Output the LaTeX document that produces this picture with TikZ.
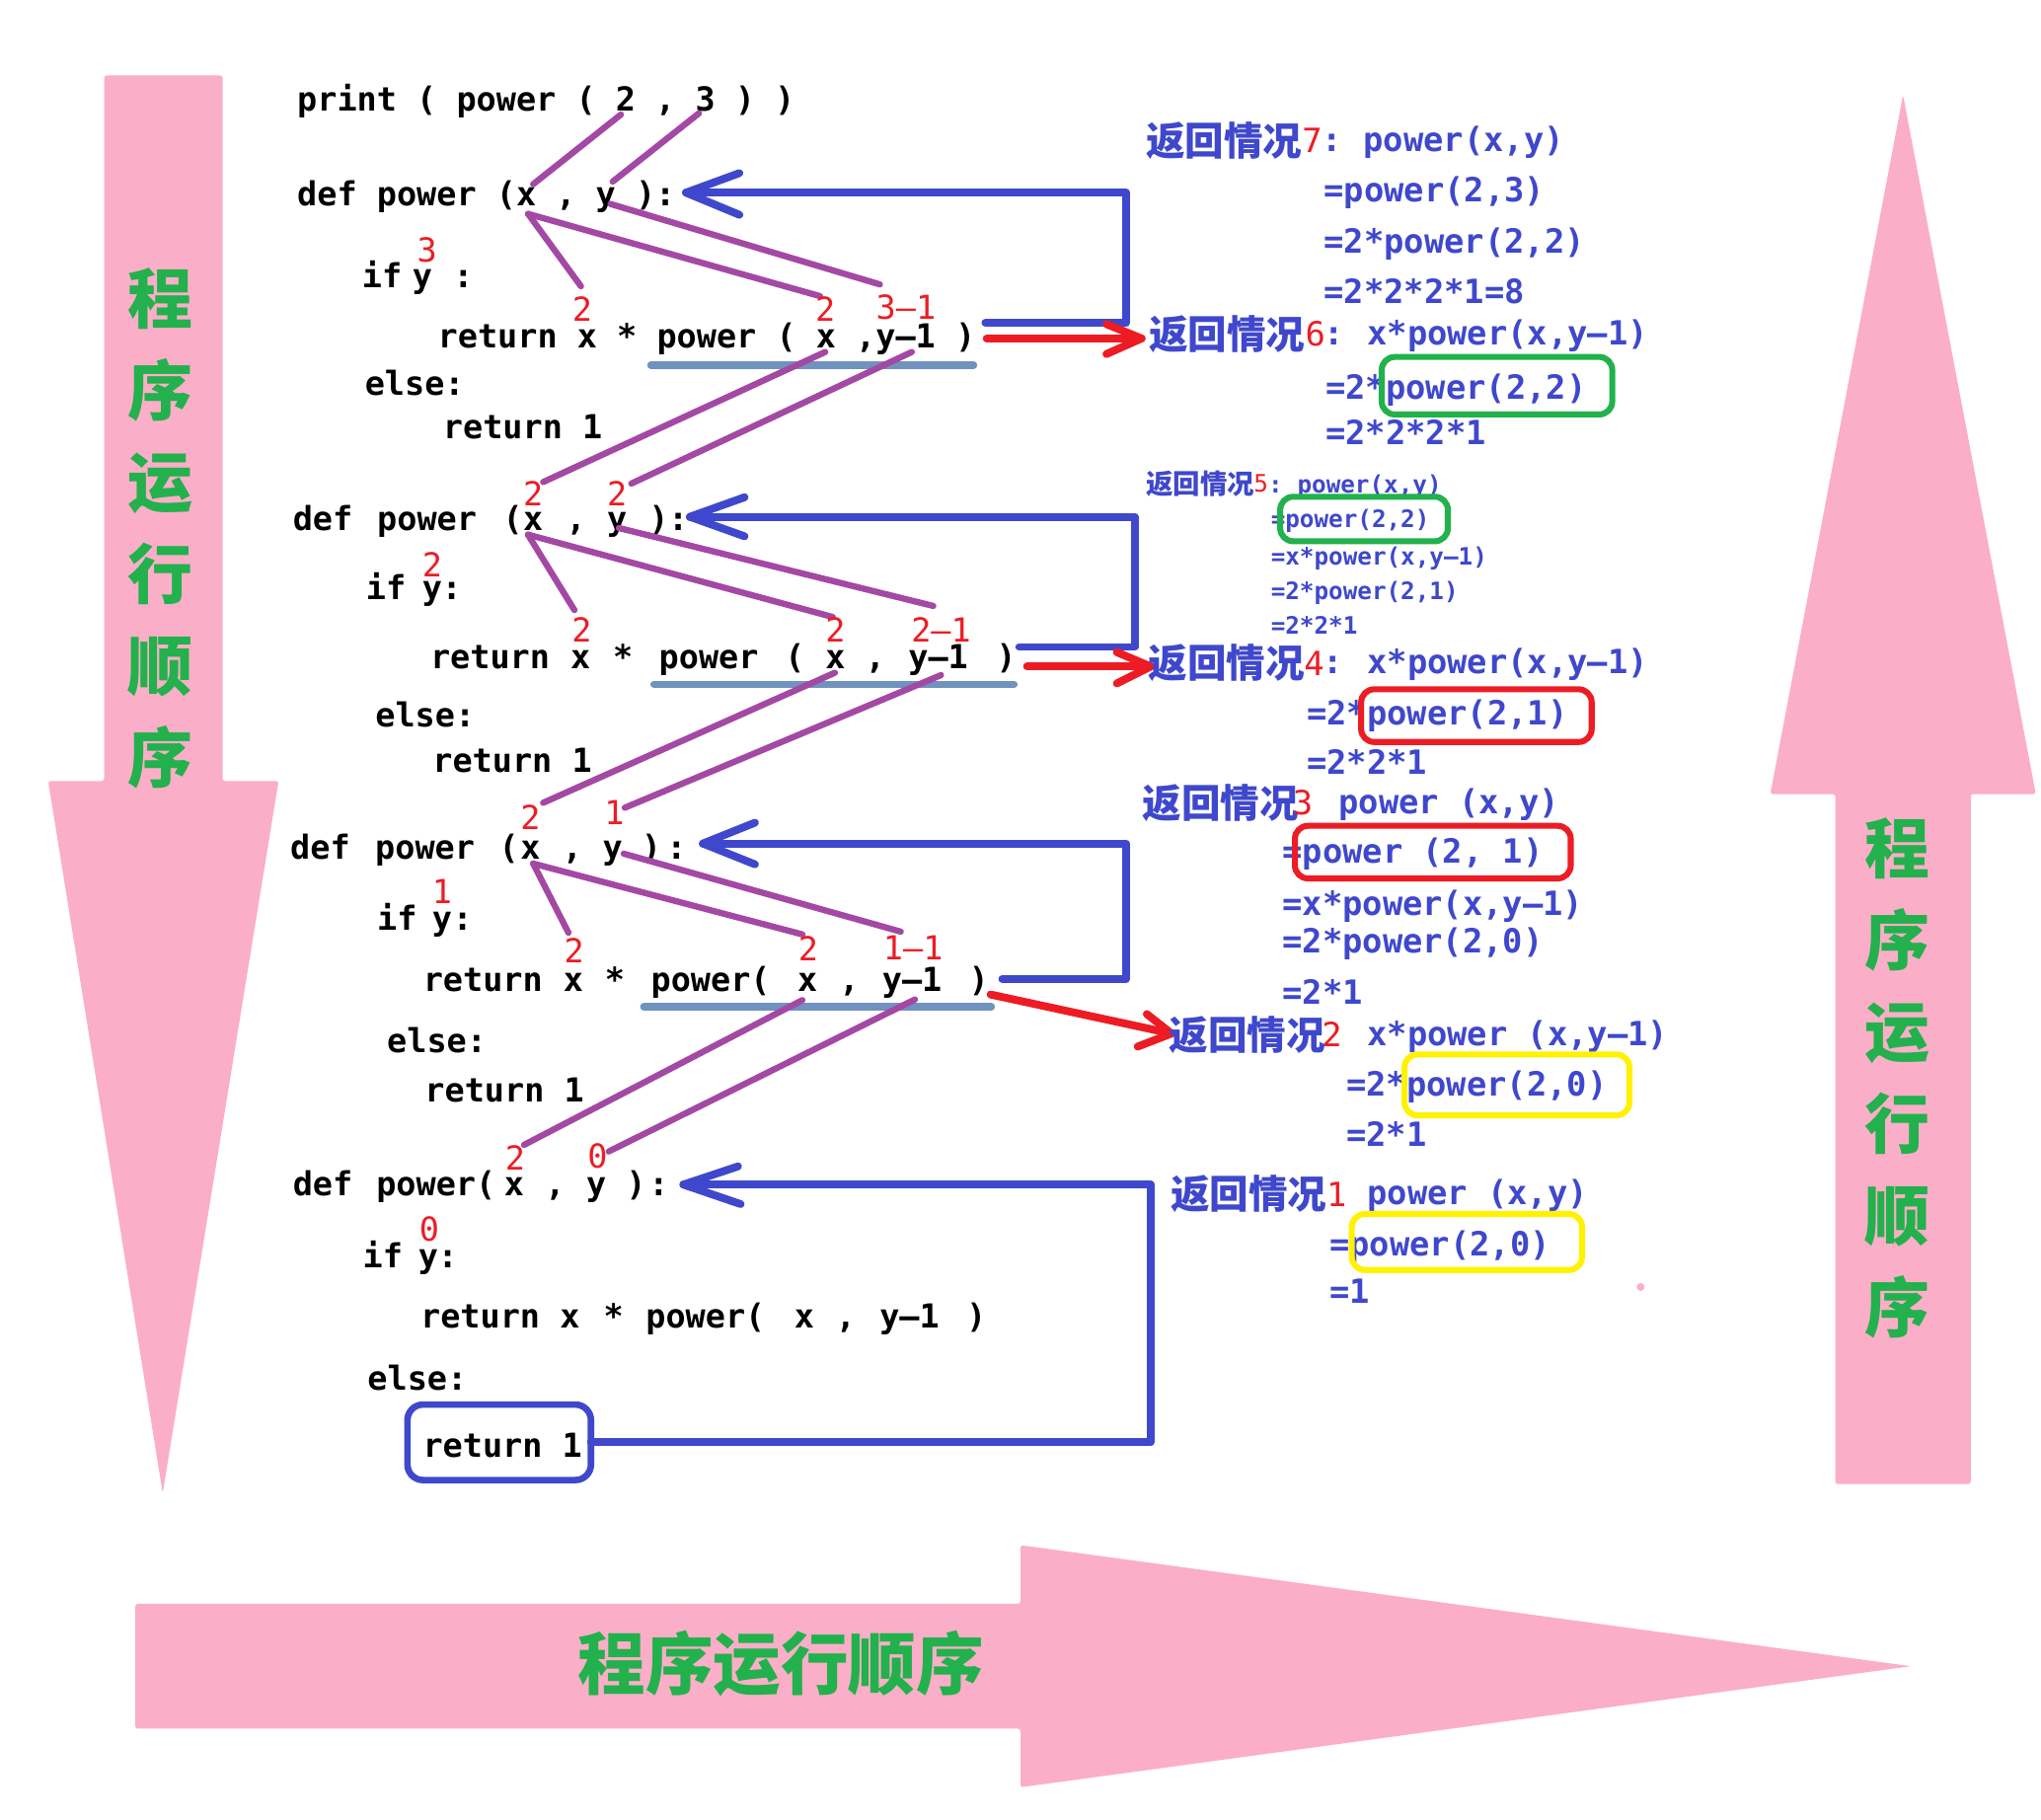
\documentclass[tikz,border=0pt]{standalone}
\usepackage{fontspec}
\usetikzlibrary{calc}
\newfontfamily\codefont{DejaVu Sans Mono}
\newfontfamily\cjkfont{Noto Sans CJK SC}
\definecolor{pinkc}{RGB}{251,174,200}
\definecolor{greenc}{RGB}{34,177,76}
\definecolor{bluec}{RGB}{63,72,204}
\definecolor{redc}{RGB}{237,28,36}
\definecolor{purplec}{RGB}{163,73,164}
\definecolor{steelc}{RGB}{112,146,190}
\definecolor{yellowc}{RGB}{255,242,0}
\tikzset{
 code/.style={font=\codefont\bfseries\fontsize{12.7}{15}\selectfont, inner sep=0pt, anchor=mid, yshift=-2pt},
 codew/.style={code, anchor=mid west},
 rd/.style={font=\codefont\fontsize{12.7}{15}\selectfont, text=redc, inner sep=0pt, anchor=center},
 bt/.style={font=\codefont\bfseries\fontsize{12.8}{15}\selectfont, text=bluec, inner sep=0pt, anchor=mid west, yshift=-2pt},
 btc/.style={bt, anchor=mid},
 bts/.style={font=\codefont\bfseries\fontsize{9.2}{11}\selectfont, text=bluec, inner sep=0pt, anchor=mid west, yshift=-1.5pt},
 btsc/.style={bts, anchor=mid},
 cjb/.style={font=\cjkfont\bfseries\fontsize{15}{18}\selectfont, text=bluec, inner sep=0pt, anchor=west},
 cjs/.style={font=\cjkfont\bfseries\fontsize{10.4}{12}\selectfont, text=bluec, inner sep=0pt, anchor=west},
 rdb/.style={font=\codefont\fontsize{12.8}{15}\selectfont, text=redc, inner sep=0pt, anchor=center},
 rds/.style={font=\codefont\fontsize{9.2}{11}\selectfont, text=redc, inner sep=0pt, anchor=center},
 gtext/.style={font=\cjkfont\bfseries\fontsize{25}{35.25}\selectfont, text=greenc, inner sep=0pt, align=center},
 pinkarrow/.style={fill=pinkc, rounded corners=1pt},
 purp/.style={draw=purplec, line width=2.4pt, line cap=round},
 bline/.style={draw=bluec, line width=3pt, line cap=round, line join=round},
 rline/.style={draw=redc, line width=3pt, line cap=round, line join=round},
 uline/.style={draw=steelc, line width=2.8pt, line cap=round},
 hbox/.style={line width=2.3pt, rounded corners=5pt},
}
\begin{document}
\begin{tikzpicture}[x=0.5pt,y=-0.5pt]
\useasboundingbox (0,0) rectangle (1568,1398);
\fill[white] (0,0) rectangle (1568,1398);
% ---------- pink arrows ----------
\fill[pinkarrow] (80,58) -- (171,58) -- (171,600) -- (214,600) -- (125,1147) -- (37,600) -- (80,600) -- cycle;
\fill[pinkarrow] (1462,73) -- (1564,610) -- (1514,610) -- (1514,1140) -- (1410,1140) -- (1410,610) -- (1360,610) -- cycle;
\fill[pinkarrow] (104,1232) -- (784,1232) -- (784,1187) -- (1468,1280) -- (784,1373) -- (784,1328) -- (104,1328) -- cycle;
\node[gtext] (gl) at (123,406) {程\\序\\运\\行\\顺\\序};
\node[gtext] (gr) at (1458,828) {程\\序\\运\\行\\顺\\序};
\node[gtext, font=\cjkfont\bfseries\fontsize{26}{30}\selectfont] (gb) at (600,1278) {程序运行顺序};
% ---------- block 1 ----------
\node[codew] (l1) at (228,77) {print ( power ( 2 , 3 ) )};
\node[codew] (d1) at (228,150) {def power (x , y ):};
\node[code] (i1a) at (293.5,213) {if};
\node[code] (i1b) at (324.5,213) {y};
\node[code] (i1c) at (356,213) {:};
\node[codew] (r1) at (336,259) {return x * power ( x ,y—1 )};
\node[codew] (e1) at (280,295.7) {else:};
\node[codew] (e1r) at (340,328.5) {return 1};
% ---------- block 2 ----------
\node[code] (d2a) at (248,399) {def};
\node[code] (d2b) at (328,399) {power};
\node[code] (d2c) at (394,399) {(};
\node[code] (d2x) at (409.6,399) {x};
\node[code] (d2d) at (442.5,399) {,};
\node[code] (d2y) at (474,399) {y};
\node[code] (d2e) at (506,399) {)};
\node[code] (d2f) at (521,399) {:};
\node[code] (i2a) at (296.5,452) {if};
\node[code] (i2b) at (332,452) {y};
\node[code] (i2c) at (347,452) {:};
\node[code] (r2a) at (376.5,505) {return};
\node[code] (r2b) at (446,505) {x};
\node[code] (r2c) at (478.6,505) {*};
\node[code] (r2d) at (544.5,505) {power};
\node[code] (r2e) at (610.7,505) {(};
\node[code] (r2f) at (641.7,505) {x};
\node[code] (r2g) at (672.5,505) {,};
\node[code] (r2h) at (720.8,505) {y—1};
\node[code] (r2i) at (773,505) {)};
\node[codew] (e2) at (288,550) {else:};
\node[codew] (e2r) at (332,585) {return 1};
% ---------- block 3 ----------
\node[code] (d3a) at (246,652) {def};
\node[code] (d3b) at (326.5,652) {power};
\node[code] (d3c) at (391,652) {(};
\node[code] (d3x) at (407.6,652) {x};
\node[code] (d3d) at (439.7,652) {,};
\node[code] (d3y) at (470.7,652) {y};
\node[code] (d3e) at (500.4,652) {)};
\node[code] (d3f) at (519.8,652) {:};
\node[code] (i3a) at (305,706.4) {if};
\node[code] (i3b) at (339.7,706.4) {y};
\node[code] (i3c) at (355.4,706.4) {:};
\node[code] (r3a) at (371,753) {return};
\node[code] (r3b) at (440.5,753) {x};
\node[code] (r3c) at (472.3,753) {*};
\node[code] (r3d) at (546,753) {power(};
\node[code] (r3f) at (620.4,753) {x};
\node[code] (r3g) at (652.5,753) {,};
\node[code] (r3h) at (700.7,753) {y—1};
\node[code] (r3i) at (752,753) {)};
\node[codew] (e3) at (297,800) {else:};
\node[codew] (e3r) at (326,838) {return 1};
% ---------- block 4 ----------
\node[code] (d4a) at (248,910) {def};
\node[code] (d4b) at (335,910) {power(};
\node[code] (d4x) at (395,910) {x};
\node[code] (d4d) at (426.4,910) {,};
\node[code] (d4y) at (458.2,910) {y};
\node[code] (d4e) at (488.7,910) {)};
\node[code] (d4f) at (506,910) {:};
\node[code] (i4a) at (294,965.4) {if};
\node[code] (i4b) at (329,965.4) {y};
\node[code] (i4c) at (344,965.4) {:};
\node[code] (r4a) at (369,1012) {return};
\node[code] (r4b) at (437.8,1012) {x};
\node[code] (r4c) at (471.3,1012) {*};
\node[code] (r4d) at (542,1012) {power(};
\node[code] (r4f) at (618,1012) {x};
\node[code] (r4g) at (649.8,1012) {,};
\node[code] (r4h) at (698.7,1012) {y—1};
\node[code] (r4i) at (750,1012) {)};
\node[codew] (e4) at (282,1060) {else:};
\node[codew] (e4r) at (324.5,1111) {return 1};
\draw[bluec, line width=2.5pt, rounded corners=6pt] (313,1079) rectangle (454,1137);
% ---------- underlines ----------
\coordinate (u1a) at (500,280.5); \coordinate (u1b) at (748,280.5);
\coordinate (u2a) at (502.4,525.7); \coordinate (u2b) at (779,525.7);
\coordinate (u3a) at (494.6,773.4); \coordinate (u3b) at (761.6,773.4);
\draw[uline] (u1a) -- (u1b);
\draw[uline] (u2a) -- (u2b);
\draw[uline] (u3a) -- (u3b);
% ---------- purple parameter lines ----------
\coordinate (pa1) at (477,88);   \coordinate (pb1) at (409.6,141.5);
\coordinate (pa2) at (537,87);   \coordinate (pb2) at (470.7,139.5);
\coordinate (pa3) at (405.7,164.3); \coordinate (pb3) at (446.3,219.9);
\coordinate (pb4) at (630,227.5);
\coordinate (pa5) at (469,156.7); \coordinate (pb5) at (676,218.5);
\coordinate (pa6) at (634,270.4); \coordinate (pb6) at (417.3,370.3);
\coordinate (pa7) at (700.5,270.4); \coordinate (pb7) at (485,371.5);
\coordinate (pa8) at (405.6,410.7); \coordinate (pb8) at (441.3,468.7);
\coordinate (pb9) at (639.8,474);
\coordinate (pa10) at (475.4,405.6); \coordinate (pb10) at (717,465.5);
\coordinate (pa11) at (641.4,516.8); \coordinate (pb11) at (417.3,616.7);
\coordinate (pa12) at (723,518.6); \coordinate (pb12) at (480,620.5);
\coordinate (pa13) at (409.6,663.4); \coordinate (pb13) at (436.7,716.5);
\coordinate (pb14) at (616.4,717.8);
\coordinate (pa15) at (479.2,655.8); \coordinate (pb15) at (692,715.7);
\coordinate (pa16) at (616.4,768.3); \coordinate (pb16) at (402.6,879.5);
\coordinate (pa17) at (702.9,767.8); \coordinate (pb17) at (467.6,884.6);
\draw[purp] (pa1) -- (pb1);
\draw[purp] (pa2) -- (pb2);
\draw[purp] (pa3) -- (pb3);
\draw[purp] (pa3) -- (pb4);
\draw[purp] (pa5) -- (pb5);
\draw[purp] (pa6) -- (pb6);
\draw[purp] (pa7) -- (pb7);
\draw[purp] (pa8) -- (pb8);
\draw[purp] (pa8) -- (pb9);
\draw[purp] (pa10) -- (pb10);
\draw[purp] (pa11) -- (pb11);
\draw[purp] (pa12) -- (pb12);
\draw[purp] (pa13) -- (pb13);
\draw[purp] (pa13) -- (pb14);
\draw[purp] (pa15) -- (pb15);
\draw[purp] (pa16) -- (pb16);
\draw[purp] (pa17) -- (pb17);
% ---------- red value labels ----------
\node[rd] (v1a) at (328,192) {3};
\node[rd] (v1b) at (447.4,237.6) {2};
\node[rd] (v1c) at (634,237) {2};
\node[rd] (v1d) at (696,236.3) {3—1};
\node[rd] (v2a) at (409.6,379) {2};
\node[rd] (v2b) at (474,379) {2};
\node[rd] (v2c) at (332,434) {2};
\node[rd] (v2d) at (447,484) {2};
\node[rd] (v2e) at (641.7,484) {2};
\node[rd] (v2f) at (723,484) {2—1};
\node[rd] (v3a) at (407.6,628) {2};
\node[rd] (v3b) at (472,624) {1};
\node[rd] (v3c) at (339.7,685) {1};
\node[rd] (v3d) at (441,730.4) {2};
\node[rd] (v3e) at (621,729) {2};
\node[rd] (v3f) at (701.5,728) {1—1};
\node[rd] (v4a) at (395.8,889.5) {2};
\node[rd] (v4b) at (459,888.4) {0};
\node[rd] (v4c) at (329.8,944) {0};
% ---------- blue return connectors ----------
\coordinate (c1s) at (757,248); \coordinate (c1m) at (865,248); \coordinate (c1n) at (865,148); \coordinate (c1t) at (527,148);
\coordinate (c2s) at (783,497); \coordinate (c2m) at (872,497); \coordinate (c2n) at (872,397); \coordinate (c2t) at (530,397);
\coordinate (c3s) at (770,752); \coordinate (c3m) at (865,752); \coordinate (c3n) at (865,648); \coordinate (c3t) at (540,648);
\coordinate (c4s) at (454,1108); \coordinate (c4m) at (884,1108); \coordinate (c4n) at (884,910); \coordinate (c4t) at (525,910);
\draw[bline] (c1s) -- (c1m) -- (c1n) -- (c1t);
\draw[bline] ($(c1t)+(41,-15)$) -- (c1t) -- ($(c1t)+(41,17)$);
\draw[bline] (c2s) -- (c2m) -- (c2n) -- (c2t);
\draw[bline] ($(c2t)+(42,-15)$) -- (c2t) -- ($(c2t)+(42,15)$);
\draw[bline] (c3s) -- (c3m) -- (c3n) -- (c3t);
\draw[bline] ($(c3t)+(40,-16)$) -- (c3t) -- ($(c3t)+(40,16)$);
\draw[bline] (c4s) -- (c4m) -- (c4n) -- (c4t);
\draw[bline] ($(c4t)+(42,-14)$) -- (c4t) -- ($(c4t)+(44,15)$);
% ---------- red result arrows ----------
\coordinate (q1s) at (758,260); \coordinate (q1t) at (877,260);
\coordinate (q2s) at (789,512); \coordinate (q2t) at (884,512);
\coordinate (q3s) at (761,764); \coordinate (q3t) at (900,794);
\draw[rline] (q1s) -- (q1t);
\draw[rline] ($(q1t)+(-27,-11)$) -- (q1t) -- ($(q1t)+(-27,12)$);
\draw[rline] (q2s) -- (q2t);
\draw[rline] ($(q2t)+(-26,-11)$) -- (q2t) -- ($(q2t)+(-26,13)$);
\draw[rline] (q3s) -- (q3t);
\draw[rline] ($(q3t)+(-19,-15)$) -- (q3t) -- ($(q3t)+(-26,10)$);
% ---------- right side: results ----------
\node[cjb] (h7) at (880,108) {返回情况};
\node[rdb] (h7n) at (1008,108) {7};
\node[btc] (h7c) at (1023,108) {:};
\node[bt] (h7t) at (1047,108) {power(x,y)};
\node[bt] (s7a) at (1016.7,146.6) {=power(2,3)};
\node[bt] (s7b) at (1016.7,185.8) {=2*power(2,2)};
\node[bt] (s7c) at (1016.7,225) {=2*2*2*1=8};
\node[cjb] (h6) at (882.3,256.5) {返回情况};
\node[rdb] (h6n) at (1010.5,256.5) {6};
\node[btc] (h6c) at (1025,256.5) {:};
\node[bt] (h6t) at (1050,256.5) {x*power(x,y—1)};
\node[bt] (s6a) at (1018,298.2) {=2*power(2,2)};
\node[bt] (s6b) at (1018,333.6) {=2*2*2*1};
\draw[greenc, hbox] (1061.5,274.2) rectangle (1238.6,318.4);
\node[cjs] (h5) at (880.3,371.5) {返回情况};
\node[rds] (h5n) at (968.8,371.5) {5};
\node[btsc] (h5c) at (980,371.5) {:};
\node[bts] (h5t) at (996.3,371.5) {power(x,y)};
\node[bts] (s5a) at (976,398) {=power(2,2)};
\node[bts] (s5b) at (976,427) {=x*power(x,y—1)};
\node[bts] (s5c) at (976,453.6) {=2*power(2,1)};
\node[bts] (s5d) at (976,480.2) {=2*2*1};
\draw[greenc, hbox] (983.5,381.6) rectangle (1112.3,415.8);
\node[cjb] (h4) at (882,509.3) {返回情况};
\node[rdb] (h4n) at (1009.5,509.3) {4};
\node[btc] (h4c) at (1024,509.3) {:};
\node[bt] (h4t) at (1050,509.3) {x*power(x,y—1)};
\node[bt] (s4a) at (1003.6,548.4) {=2*power(2,1)};
\node[bt] (s4b) at (1003.6,586.3) {=2*2*1};
\draw[redc, hbox] (1045.7,529.5) rectangle (1222.8,570);
\node[cjb] (h3) at (877.3,616.7) {返回情况};
\node[rdb] (h3n) at (1000.8,616.7) {3};
\node[bt] (h3t) at (1028,616.7) {power (x,y)};
\node[bt] (s3a) at (984.8,654.6) {=power (2, 1)};
\node[bt] (s3b) at (984.8,695) {=x*power(x,y—1)};
\node[bt] (s3c) at (984.8,724.1) {=2*power(2,0)};
\node[bt] (s3d) at (984.8,763.3) {=2*1};
\draw[redc, hbox] (994.8,634.4) rectangle (1206.7,674.8);
\node[cjb] (h2) at (897.7,794.8) {返回情况};
\node[rdb] (h2n) at (1023.3,794.8) {2};
\node[bt] (h2t) at (1050,794.8) {x*power (x,y—1)};
\node[bt] (s2a) at (1034,834) {=2*power(2,0)};
\node[bt] (s2b) at (1034,872) {=2*1};
\draw[yellowc, hbox] (1079,810) rectangle (1251.8,856.8);
\node[cjb] (h1) at (899,917.4) {返回情况};
\node[rdb] (h1n) at (1026.8,917.4) {1};
\node[bt] (h1t) at (1050,917.4) {power (x,y)};
\node[bt] (s1a) at (1021,956.6) {=power(2,0)};
\node[bt] (s1b) at (1021,993) {=1};
\draw[yellowc, hbox] (1038.5,932.6) rectangle (1215.4,975.6);
\fill[pinkc] (1260.4,988.7) circle (3);
\end{tikzpicture}
\end{document}
